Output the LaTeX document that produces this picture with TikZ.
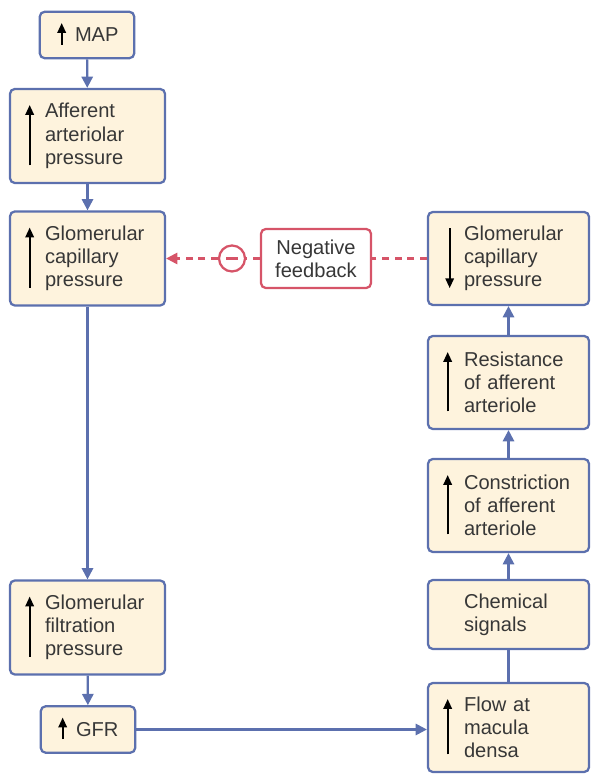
\documentclass[tikz,border=0pt]{standalone}
\usepackage{fontspec}
\setmainfont{Liberation Sans}
\usetikzlibrary{arrows.meta}

\definecolor{boxfill}{RGB}{254,243,221}
\definecolor{boxline}{RGB}{92,112,174}
\definecolor{fbred}{RGB}{214,84,104}
\definecolor{txt}{RGB}{55,55,55}

\hyphenpenalty=10000
\exhyphenpenalty=10000

\tikzset{
  stepbox/.style={rectangle, rounded corners=0.12cm, draw=boxline, fill=boxfill, line width=1.6pt,
    align=left, inner sep=0pt, text=txt, font=\fontsize{14.3pt}{16.5pt}\selectfont},
  leftbox/.style={stepbox, minimum width=3.875cm, minimum height=2.35cm, text width=2.125cm},
  rightbox/.style={stepbox, minimum width=4.025cm, minimum height=2.325cm, text width=2.225cm},
  smallbox/.style={stepbox, minimum width=2.36cm, minimum height=1.16cm, text width=0.6cm},
  fbbox/.style={rectangle, rounded corners=0.12cm, draw=fbred, fill=white, line width=1.6pt,
    align=center, inner sep=0pt, minimum width=2.75cm, minimum height=1.475cm,
    text=txt, font=\fontsize{14.3pt}{16.5pt}\selectfont},
  minuscirc/.style={circle, draw=fbred, line width=1.6pt, minimum size=0.65cm, inner sep=0pt},
  flowline/.style={draw=boxline, line width=1.6pt},
  flowarrow/.style={flowline, -{Triangle[length=0.28cm,width=0.28cm]}},
  fbline/.style={draw=fbred, line width=1.6pt, dash pattern=on 5pt off 4pt,
    -{Triangle[length=0.28cm,width=0.28cm]}},
  change/.style={draw=black, line width=1.4pt, -{Triangle[length=7pt,width=6pt]}},
}

\begin{document}
\begin{tikzpicture}
\useasboundingbox (0,0) rectangle (14.775,19.35);
% left column
\node[smallbox] (map) at (2.175,18.475) {MAP};
\node[leftbox] (aff) at (2.1875,15.95) {Afferent\\arteriolar\\pressure};
\node[leftbox] (gcp) at (2.1875,12.8875) {Glomerular\\capillary\\pressure};
\node[leftbox] (gfp) at (2.1875,3.6625) {Glomerular\\filtration\\pressure};
\node[smallbox] (gfr) at (2.2,1.1125) {GFR};
% right column
\node[rightbox] (rgcp) at (12.7125,12.8875) {Glomerular\\capillary\\pressure};
\node[rightbox] (res) at (12.7125,9.7875) {Resistance\\of~afferent\\arteriole};
\node[rightbox] (con) at (12.7125,6.7125) {Constriction\\of~afferent\\arteriole};
\node[rightbox, minimum height=1.725cm] (chem) at (12.7125,3.9875) {Chemical\\signals};
\node[rightbox, minimum height=2.225cm] (flow) at (12.7125,1.1625) {Flow~at\\macula\\densa};
% feedback
\node[fbbox] (fb) at (7.9,12.8875) {Negative\\feedback};
\node[minuscirc] (neg) at (5.8,12.8875) {};
\draw[fbred, line width=1.6pt] ([xshift=-0.15cm]neg.center) -- ([xshift=0.15cm]neg.center);

% rises and falls
\foreach \n in {aff,gcp,gfp,res,con,flow}
  \draw[change] ([shift={(0.52cm,0.47cm)}]\n.south west) -- ([shift={(0.52cm,-0.43cm)}]\n.north west);
\draw[change] ([shift={(0.57cm,-0.43cm)}]rgcp.north west) -- ([shift={(0.57cm,0.45cm)}]rgcp.south west);
\foreach \n in {map,gfr}
  \draw[change] ([shift={(0.575cm,0.37cm)}]\n.south west) -- ([shift={(0.575cm,-0.31cm)}]\n.north west);

% connectors
\draw[flowarrow] (map) -- (aff);
\draw[flowarrow] (aff) -- (gcp);
\draw[flowarrow] (gcp) -- (gfp);
\draw[flowarrow] (gfp) -- (gfr);
\draw[flowarrow] (gfr.east) -- (gfr.east -| flow.west);
\draw[flowline] (flow) -- (chem);
\draw[flowarrow] (chem) -- (con);
\draw[flowarrow] (con) -- (res);
\draw[flowarrow] (res) -- (rgcp);
\draw[fbline, -] (rgcp.west) -- (fb.east);
\draw[fbline, -] (fb.west) -- (neg.east);
\draw[fbline] (neg.west) -- (gcp.east);
\end{tikzpicture}
\end{document}
